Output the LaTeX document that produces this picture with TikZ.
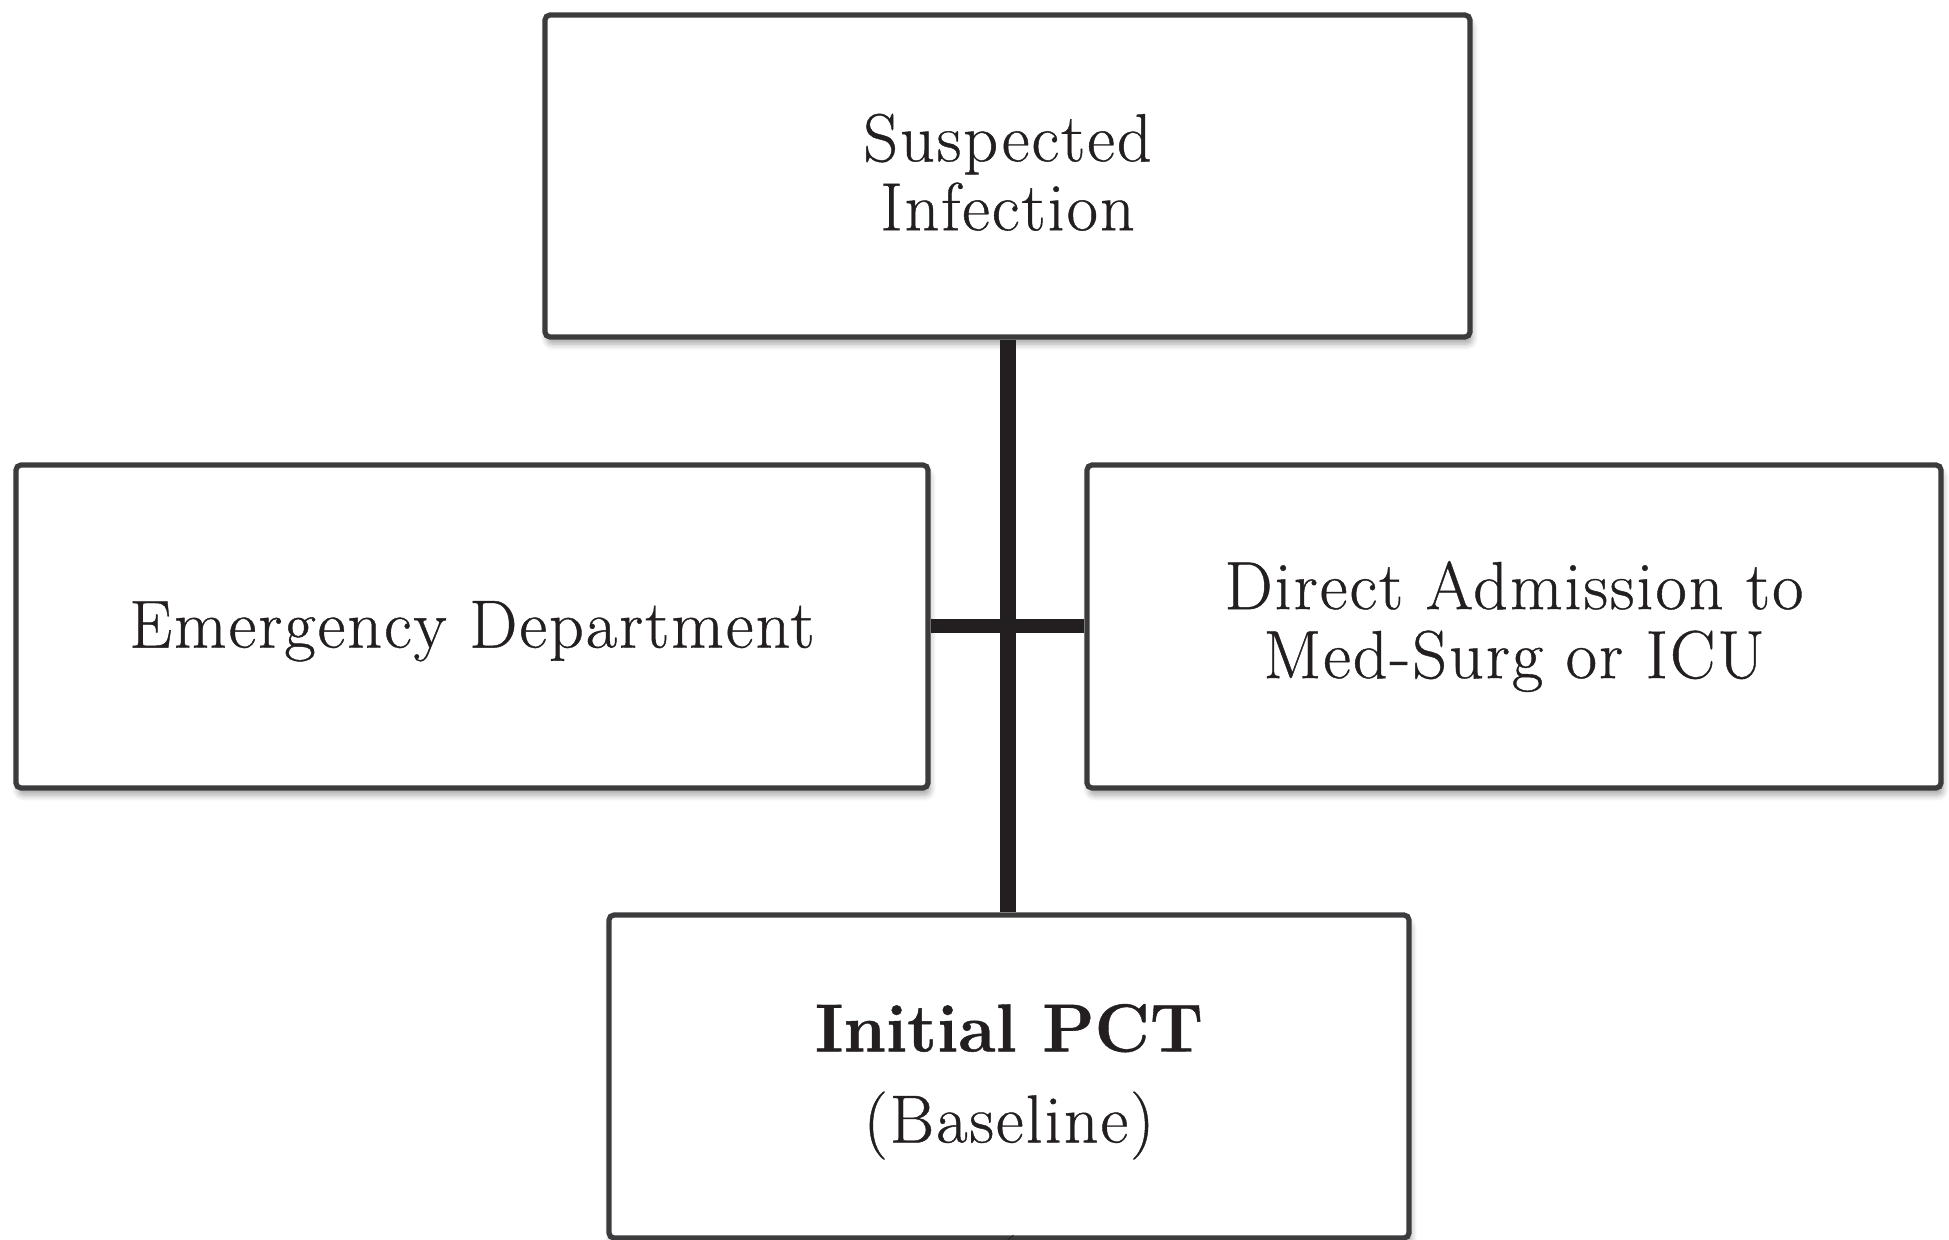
\documentclass[tikz,border=0pt]{standalone}
\usepackage{fontspec}
\setmainfont{Latin Modern Roman}[LetterSpace=3,FakeBold=0.6]
\usetikzlibrary{shadows.blur}
\definecolor{boxline}{HTML}{3C3C3E}
\definecolor{ink}{HTML}{231F20}
\tikzset{
  flowbox/.style={draw=boxline, line width=2.6pt, rounded corners=2.5pt, fill=white,
    inner sep=0pt, align=center, text=ink,
    font=\fontsize{34}{34.5}\selectfont,
    blur shadow={shadow blur steps=6, shadow xshift=1pt, shadow yshift=-3.5pt, shadow opacity=35, shadow blur radius=3pt}},
  trunk/.style={draw=ink, line width=8pt},
  branch/.style={draw=ink, line width=7pt}
}
\begin{document}
\begin{tikzpicture}[x=0.5pt,y=-0.5pt]
\useasboundingbox (0,0) rectangle (1949,1240);
\node[flowbox, minimum width=462.5pt, minimum height=161pt] (top) at (1007.5,176) {Suspected\\Infection\rule[-4pt]{0pt}{4pt}};
\node[flowbox, minimum width=456pt, minimum height=161.5pt] (left) at (472,626.5) {\rule{0pt}{28pt}Emergency Department};
\node[flowbox, minimum width=427pt, minimum height=161.5pt] (right) at (1514,626.5) {Direct Admission to\\Med-Surg or ICU};
\node[flowbox, minimum width=400pt, minimum height=161.5pt] (bot) at (1009,1076.5) {\rule{0pt}{29pt}{\bfseries\addfontfeature{LetterSpace=0}Initial PCT}\\[11pt](Baseline)};
\coordinate (stub) at (1007,1240);
\draw[trunk] (top.south) -- (top.south |- bot.north);
\draw[branch] (left.east) -- (right.west);
\draw[trunk] (top.south |- bot.south) -- (stub);
\end{tikzpicture}
\end{document}
